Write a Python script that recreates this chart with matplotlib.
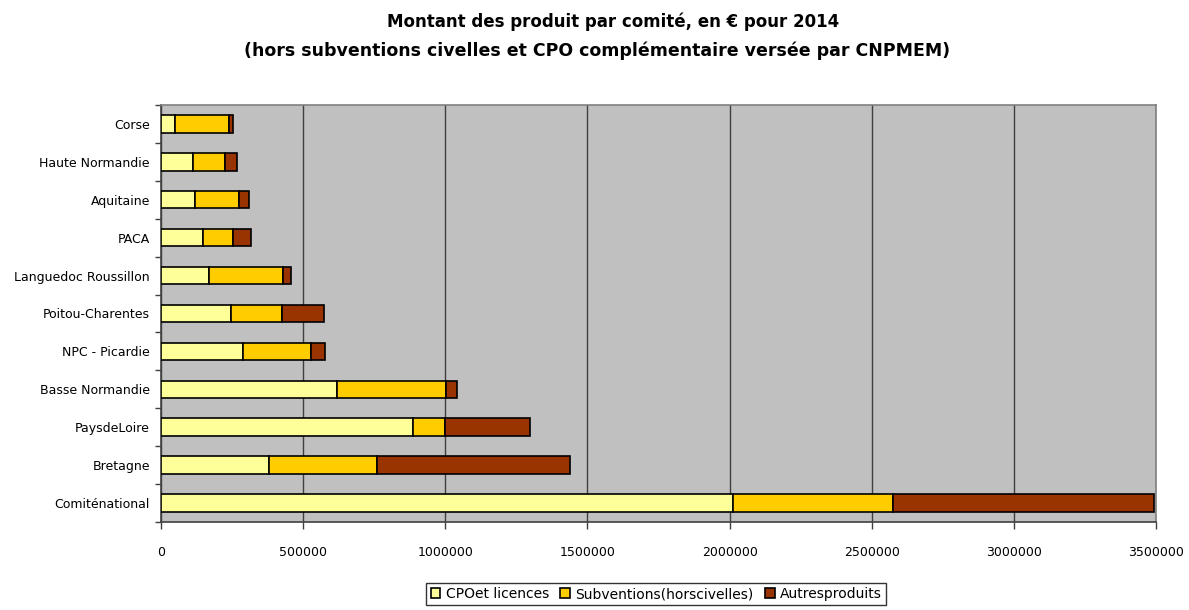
import numpy as np
import matplotlib
matplotlib.use("Agg")
import matplotlib.pyplot as plt
from matplotlib.ticker import MultipleLocator

# ============================
# Data
# ============================

comites = ["Comiténational", "Bretagne", "PaysdeLoire", "Basse Normandie",
           "NPC - Picardie", "Poitou-Charentes", "Languedoc Roussillon",
           "PACA", "Aquitaine", "Haute Normandie", "Corse"]

cpo_licences = [2012000, 380000, 888000, 619000, 287000, 247000, 169000,
                147000, 120000, 111000, 50000]
subventions = [564000, 380000, 112000, 384000, 240000, 177000, 260000,
               105000, 155000, 113000, 189000]
autres = [916000, 677000, 297000, 39000, 50000, 148000, 29000,
          65000, 35000, 45000, 16000]

series_labels = ["CPOet licences", "Subventions(horscivelles)", "Autresproduits"]
colors = ["#FFFF99", "#FFCC00", "#993300"]

# ============================
# Figure
# ============================

fig = plt.figure(figsize=(11.89, 6.10), dpi=100)
ax = fig.add_axes([0.1354, 0.1443, 0.8369, 0.6836])

y = np.arange(len(comites))
left = np.zeros(len(comites))
for vals, lab, col in zip([cpo_licences, subventions, autres], series_labels, colors):
    ax.barh(y, vals, left=left, height=0.46, color=col, edgecolor="black",
            linewidth=1.2, label=lab, zorder=3)
    left = left + np.array(vals)

ax.set_facecolor("#C0C0C0")
ax.set_xlim(0, 3500000)
ax.set_ylim(-0.5, len(comites) - 0.5)

ax.xaxis.set_major_locator(MultipleLocator(500000))
ax.grid(axis="x", color="#404040", linewidth=1.0, zorder=1)
ax.set_xticklabels([str(int(v)) for v in ax.get_xticks()])

ax.set_yticks(y)
ax.set_yticklabels(comites)
ax.set_yticks(np.arange(-0.5, len(comites), 1), minor=True)
ax.tick_params(axis="y", which="major", length=0, pad=8, labelsize=9)
ax.tick_params(axis="y", which="minor", length=4, width=1, color="#404040")
ax.tick_params(axis="x", which="major", length=5, width=1, color="#404040",
               labelsize=9, pad=12)

for lbl in ax.get_xticklabels() + ax.get_yticklabels():
    lbl.set_fontfamily("DejaVu Sans")

ax.spines["left"].set_color("#404040")
ax.spines["bottom"].set_color("#404040")
ax.spines["top"].set_color("#808080")
ax.spines["right"].set_color("#808080")
for s in ax.spines.values():
    s.set_linewidth(1.2)

fig.text(0.516, 0.965, "Montant des produit par comité, en € pour 2014",
         ha="center", va="center", fontsize=12, fontweight="heavy",
         family="Liberation Sans Narrow")
fig.text(0.502, 0.917,
         "(hors subventions civelles et CPO complémentaire versée par CNPMEM)",
         ha="center", va="center", fontsize=12.5, fontweight="bold",
         family="DejaVu Sans")

leg = fig.legend(loc="center", bbox_to_anchor=(0.552, 0.026), ncol=3,
                 frameon=True, fancybox=False, edgecolor="black",
                 fontsize=10, handlelength=0.7, handleheight=0.7,
                 handletextpad=0.4, columnspacing=0.8, borderpad=0.3)
leg.get_frame().set_linewidth(1.0)

fig.savefig("out.png", dpi=100)
